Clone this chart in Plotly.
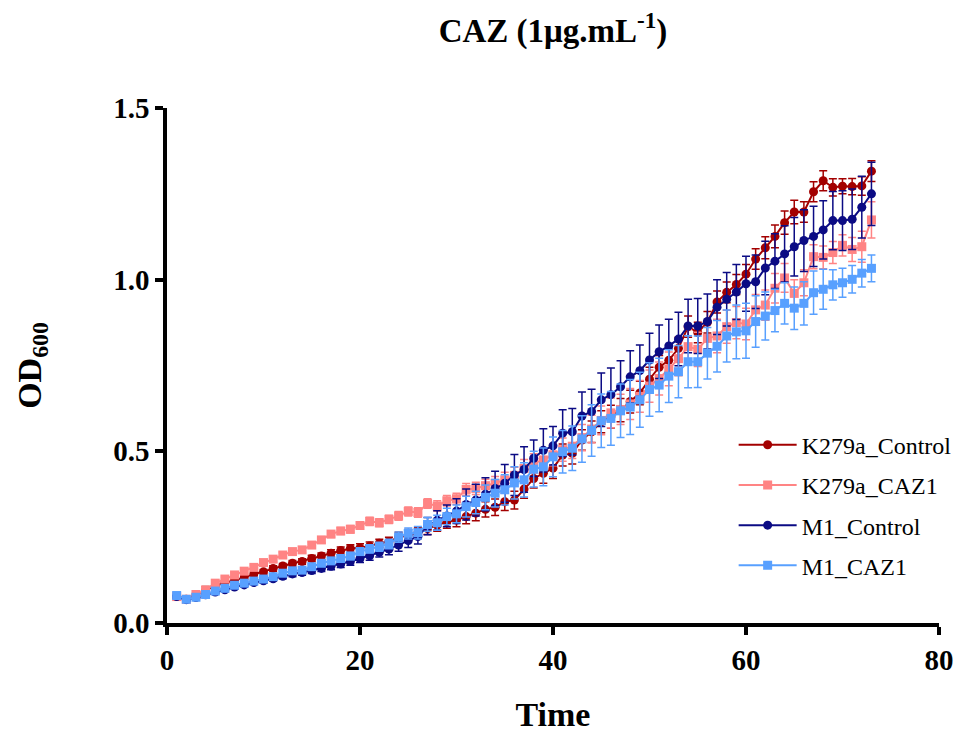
import plotly.graph_objects as go

time = list(range(1, 74))

k279a_control = [0.077, 0.069, 0.081, 0.094, 0.108, 0.117, 0.125, 0.132, 0.143, 0.149,
                 0.159, 0.166, 0.174, 0.179, 0.188, 0.195, 0.203, 0.211, 0.217, 0.219,
                 0.224, 0.232, 0.237, 0.250, 0.257, 0.262, 0.275, 0.285, 0.295, 0.300,
                 0.310, 0.320, 0.331, 0.337, 0.353, 0.358, 0.390, 0.421, 0.436, 0.451,
                 0.489, 0.494, 0.533, 0.557, 0.586, 0.601, 0.620, 0.645, 0.670, 0.710,
                 0.745, 0.765, 0.800, 0.863, 0.846, 0.876, 0.935, 0.963, 0.986, 1.016,
                 1.060, 1.093, 1.126, 1.166, 1.197, 1.197, 1.256, 1.288, 1.269, 1.272,
                 1.271, 1.273, 1.316]
k279a_control_err = [0.005, 0.004, 0.006, 0.012, 0.008, 0.006, 0.006, 0.007, 0.006, 0.007,
                     0.008, 0.007, 0.008, 0.008, 0.009, 0.009, 0.010, 0.010, 0.011, 0.012,
                     0.012, 0.012, 0.013, 0.014, 0.015, 0.016, 0.017, 0.018, 0.019, 0.020,
                     0.021, 0.022, 0.022, 0.024, 0.025, 0.026, 0.027, 0.028, 0.029, 0.030,
                     0.032, 0.031, 0.030, 0.031, 0.032, 0.033, 0.034, 0.033, 0.034, 0.035,
                     0.034, 0.033, 0.032, 0.031, 0.030, 0.031, 0.032, 0.030, 0.029, 0.028,
                     0.030, 0.032, 0.033, 0.034, 0.034, 0.030, 0.029, 0.029, 0.025, 0.022,
                     0.024, 0.027, 0.030]

k279a_caz1 = [0.077, 0.069, 0.083, 0.096, 0.116, 0.128, 0.140, 0.151, 0.162, 0.176,
              0.186, 0.198, 0.208, 0.213, 0.227, 0.242, 0.259, 0.268, 0.273, 0.284,
              0.296, 0.292, 0.302, 0.312, 0.325, 0.322, 0.348, 0.341, 0.356, 0.362,
              0.389, 0.392, 0.400, 0.407, 0.417, 0.430, 0.450, 0.465, 0.475, 0.490,
              0.505, 0.515, 0.540, 0.565, 0.590, 0.612, 0.622, 0.638, 0.660, 0.690,
              0.712, 0.740, 0.770, 0.805, 0.797, 0.829, 0.836, 0.863, 0.875, 0.871,
              0.912, 0.926, 0.975, 1.005, 0.960, 0.991, 1.067, 1.065, 1.079, 1.100,
              1.088, 1.096, 1.174]
k279a_caz1_err = [0.004, 0.004, 0.005, 0.005, 0.006, 0.006, 0.006, 0.007, 0.007, 0.007,
                  0.008, 0.008, 0.008, 0.008, 0.009, 0.009, 0.010, 0.010, 0.011, 0.011,
                  0.012, 0.012, 0.012, 0.013, 0.013, 0.014, 0.014, 0.015, 0.015, 0.016,
                  0.017, 0.018, 0.019, 0.020, 0.022, 0.024, 0.026, 0.028, 0.030, 0.032,
                  0.034, 0.036, 0.038, 0.040, 0.042, 0.043, 0.044, 0.045, 0.046, 0.047,
                  0.048, 0.049, 0.050, 0.050, 0.050, 0.050, 0.049, 0.048, 0.047, 0.046,
                  0.045, 0.044, 0.043, 0.042, 0.040, 0.038, 0.035, 0.033, 0.032, 0.031,
                  0.035, 0.045, 0.053]

m1_control = [0.077, 0.068, 0.074, 0.082, 0.090, 0.097, 0.105, 0.111, 0.118, 0.123,
              0.129, 0.136, 0.143, 0.147, 0.153, 0.159, 0.165, 0.172, 0.179, 0.188,
              0.196, 0.206, 0.215, 0.227, 0.240, 0.252, 0.282, 0.299, 0.312, 0.326,
              0.345, 0.358, 0.375, 0.392, 0.407, 0.431, 0.447, 0.480, 0.503, 0.516,
              0.553, 0.557, 0.603, 0.616, 0.650, 0.665, 0.688, 0.717, 0.735, 0.766,
              0.790, 0.807, 0.827, 0.865, 0.865, 0.878, 0.920, 0.943, 0.964, 0.988,
              0.994, 1.034, 1.054, 1.075, 1.096, 1.114, 1.126, 1.145, 1.172, 1.172,
              1.176, 1.211, 1.250]
m1_control_err = [0.004, 0.004, 0.004, 0.005, 0.005, 0.005, 0.006, 0.006, 0.006, 0.007,
                  0.007, 0.007, 0.008, 0.008, 0.009, 0.009, 0.010, 0.010, 0.011, 0.012,
                  0.013, 0.014, 0.016, 0.018, 0.020, 0.022, 0.025, 0.028, 0.032, 0.036,
                  0.045, 0.046, 0.048, 0.050, 0.055, 0.060, 0.066, 0.053, 0.063, 0.056,
                  0.068, 0.068, 0.070, 0.065, 0.078, 0.078, 0.076, 0.076, 0.075, 0.078,
                  0.078, 0.078, 0.078, 0.078, 0.080, 0.080, 0.080, 0.078, 0.080, 0.080,
                  0.078, 0.078, 0.080, 0.082, 0.085, 0.090, 0.088, 0.085, 0.085, 0.087,
                  0.088, 0.090, 0.092]

m1_caz1 = [0.080, 0.069, 0.075, 0.083, 0.093, 0.101, 0.110, 0.116, 0.122, 0.128,
           0.135, 0.145, 0.152, 0.154, 0.164, 0.174, 0.181, 0.188, 0.195, 0.208,
           0.216, 0.222, 0.230, 0.250, 0.261, 0.263, 0.287, 0.292, 0.310, 0.318,
           0.339, 0.351, 0.366, 0.378, 0.388, 0.408, 0.417, 0.448, 0.455, 0.484,
           0.499, 0.509, 0.536, 0.561, 0.589, 0.596, 0.618, 0.629, 0.650, 0.680,
           0.693, 0.719, 0.732, 0.761, 0.761, 0.786, 0.806, 0.836, 0.848, 0.851,
           0.878, 0.894, 0.910, 0.931, 0.917, 0.931, 0.962, 0.972, 0.985, 0.991,
           1.001, 1.019, 1.033]
m1_caz1_err = [0.004, 0.004, 0.004, 0.005, 0.005, 0.005, 0.006, 0.006, 0.006, 0.007,
               0.007, 0.007, 0.008, 0.008, 0.008, 0.009, 0.009, 0.010, 0.010, 0.011,
               0.012, 0.013, 0.014, 0.015, 0.016, 0.018, 0.020, 0.022, 0.024, 0.026,
               0.030, 0.033, 0.036, 0.040, 0.044, 0.047, 0.050, 0.052, 0.055, 0.058,
               0.062, 0.065, 0.068, 0.075, 0.078, 0.078, 0.078, 0.080, 0.080, 0.078,
               0.078, 0.077, 0.076, 0.076, 0.075, 0.075, 0.075, 0.076, 0.078, 0.080,
               0.075, 0.070, 0.062, 0.060, 0.062, 0.063, 0.063, 0.058, 0.044, 0.042,
               0.040, 0.040, 0.039]

series_names = ["K279a_Control", "K279a_CAZ1", "M1_Control", "M1_CAZ1"]
series_values = [k279a_control, k279a_caz1, m1_control, m1_caz1]
series_errors = [k279a_control_err, k279a_caz1_err, m1_control_err, m1_caz1_err]
series_colors = ["#A30000", "#FF8484", "#0B0B84", "#58A0FF"]
series_symbols = ["circle", "square", "circle", "square"]

x_ticks = [0, 20, 40, 60, 80]
y_ticks = [0.0, 0.5, 1.0, 1.5]

fig = go.Figure()
for name, vals, errs, col, sym in zip(series_names, series_values, series_errors,
                                      series_colors, series_symbols):
    fig.add_trace(go.Scatter(
        x=time, y=vals, name=name, mode="lines+markers", legendgroup=name,
        line=dict(color=col, width=2),
        marker=dict(color=col, symbol=sym, size=9),
        error_y=dict(type="data", array=errs, visible=True, color=col,
                     thickness=1.5, width=4),
    ))

serif = "Liberation Serif, Times New Roman, serif"
fig.update_layout(
    width=958, height=733,
    margin=dict(l=167, r=19, t=108, b=110, autoexpand=False),
    paper_bgcolor="white", plot_bgcolor="white",
    font=dict(family=serif, color="black"),
    title=dict(text="<b>CAZ (1μg.mL<sup>-1</sup>)</b>", x=0.5, xref="paper",
               xanchor="center", y=1 - 30 / 733, yref="container", yanchor="middle",
               font=dict(size=33, family=serif, color="black")),
    showlegend=True,
    legend=dict(x=0.734, y=0.389, xanchor="left", yanchor="top",
                font=dict(size=24, family=serif, color="black"),
                bgcolor="rgba(0,0,0,0)", tracegroupgap=6, itemwidth=58),
    xaxis=dict(range=[0, 80], tickvals=x_ticks, showline=True, linecolor="black",
               linewidth=3.5, ticks="outside", ticklen=8, tickwidth=3.5, tickcolor="black",
               showgrid=False, zeroline=False, automargin=False,
               tickfont=dict(size=29, family=serif, weight="bold"),
               title=dict(text="<b>Time</b>", font=dict(size=34, family=serif), standoff=33)),
    yaxis=dict(range=[0, 1.5], tickvals=y_ticks, tickformat=".1f", showline=True,
               linecolor="black", linewidth=3.5, ticks="outside", ticklen=8, tickwidth=3.5,
               tickcolor="black", showgrid=False, zeroline=False, automargin=False,
               tickfont=dict(size=29, family=serif, weight="bold"),
               title=dict(text="<b>OD<sub>600</sub></b>", font=dict(size=34, family=serif),
                          standoff=62)),
)

fig.write_html("out.html", config={"displayModeBar": False},
               post_script="document.body.style.margin='0';")
